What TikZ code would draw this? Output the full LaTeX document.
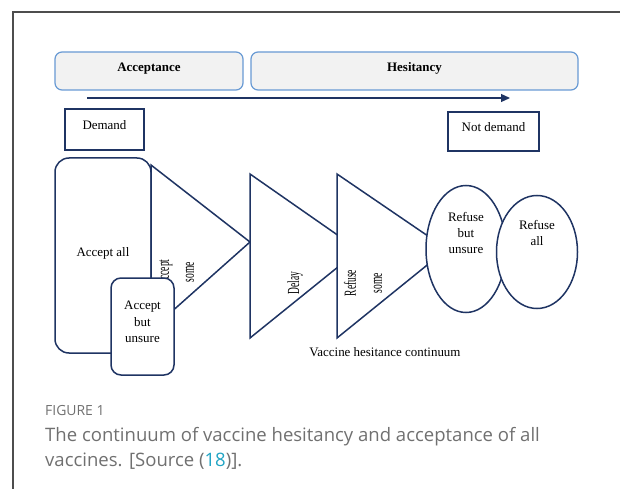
\documentclass[tikz,border=0pt]{standalone}
\usepackage{fontspec}
\setmainfont{Liberation Serif}
\newfontfamily\capfont{Open Sans}
\newfontfamily\narrowfont[FakeStretch=0.56]{Liberation Serif}
\usepackage{tikz}
\usetikzlibrary{
  arrows.meta,positioning,shapes.geometric
}
\definecolor{VaxNavy}{RGB}{31,52,99}
\definecolor{BarBlue}{RGB}{104,154,212}
\definecolor{BarGray}{RGB}{242,242,242}
\definecolor{FrameGray}{RGB}{77,77,77}
\definecolor{CapGray}{RGB}{112,112,112}
\definecolor{RefTeal}{RGB}{32,164,196}
\tikzset{
  bar/.style={draw=BarBlue,fill=BarGray,line width=1.2bp,rounded corners=7bp,
    font=\fontsize{13}{16}\bfseries,text depth=8bp},
  tag/.style={draw=VaxNavy,line width=1.5bp,fill=white,text depth=9bp},
  stage/.style={draw=VaxNavy,line width=1.5bp,fill=white},
  oval/.style={ellipse,draw=VaxNavy,line width=1.5bp,fill=white,align=center,inner sep=0pt},
  vert/.style={rotate=90,inner sep=0pt,font=\fontsize{17}{18}\narrowfont},
  capline/.style={anchor=base west,inner sep=0pt,text=CapGray,font=\fontsize{18.6}{22}\capfont}
}

\begin{document}
\begin{tikzpicture}[x=1bp,y=-1bp,font=\fontsize{13}{16.5}\selectfont]
  \useasboundingbox (0,0) rectangle (620,489);
  \draw[FrameGray,line width=1.5bp] (620,12) -- (13,12) -- (13,489);

  % the two bands and the run from demand to not demand
  \node[bar,minimum width=188bp,minimum height=38bp] (acc) at (149,71) {Acceptance};
  \node[bar,minimum width=327bp,minimum height=38bp] (hes) at (414.5,71) {Hesitancy};
  \coordinate (runA) at (87,98);
  \coordinate (runB) at (510,98);
  \draw[VaxNavy,line width=1.2bp,-{Triangle[length=9bp,width=8bp]}] (runA) -- (runB);
  \node[tag,minimum width=79bp,minimum height=41bp] (dem) at (104.5,129.5) {Demand};
  \node[tag,minimum width=91bp,minimum height=39bp] (notdem) at (493.5,131.5) {Not demand};

  % continuum
  \node[tag,rounded corners=14bp,minimum width=96bp,minimum height=195bp,text depth=7bp] (all) at (103,255.5) {Accept all};
  \foreach \l/\t/\b/\px/\py in {151/165/330/250/242,250/174/338/359/250,337/174/338/447/249}
    \draw[stage] (\l,\t) -- (\px,\py) -- (\l,\b) -- cycle;
  \node[vert] (acctxt) at (165,273) {Accept};
  \node[vert] (some1) at (190,272) {some};
  \node[vert] (delay) at (295,283) {Delay};
  \node[vert] (reftxt) at (350,283) {Refuse};
  \node[vert] (some2) at (378,283) {some};
  \node[tag,rounded corners=10bp,minimum width=63bp,minimum height=97bp,align=center] (unsure) at (142.5,326.5) {Accept\\but\\unsure};
  \node[oval,minimum width=80bp,minimum height=127bp,text depth=32bp] (rbu) at (466,249) {Refuse\\but\\unsure};
  \node[oval,minimum width=81bp,minimum height=113bp,text depth=38bp] (rall) at (537,252) {Refuse\\all};
  \node (vhc) at (385,352) {Vaccine hesitance continuum};

  % caption
  \node[capline,font=\fontsize{14}{16}\capfont] (fig) at (45,415) {FIGURE 1};
  \node[capline] (cap1) at (45,441) {The continuum of vaccine hesitancy and acceptance of all};
  \node[capline] (cap2) at (45,466) {vaccines. [Source (\textcolor{RefTeal}{18})].};
\end{tikzpicture}
\end{document}
